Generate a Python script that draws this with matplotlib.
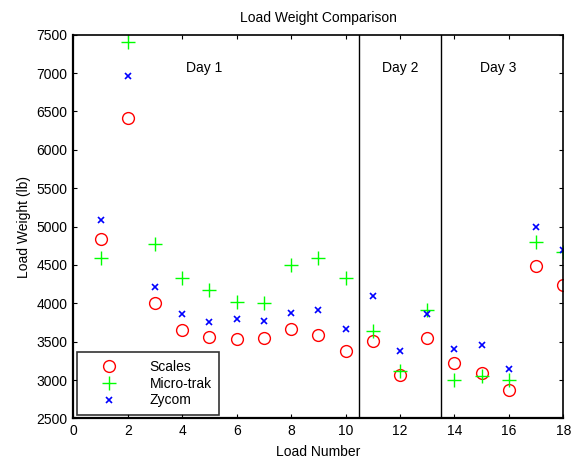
import matplotlib.pyplot as plt

plt.rcParams['font.family'] = ['Liberation Sans', 'DejaVu Sans']

# Load numbers
loads = list(range(1, 19))

# Weights (lb)
scales = [4840, 6415, 4010, 3648, 3560, 3530, 3545, 3660, 3585, 3380,
          3515, 3070, 3555, 3220, 3090, 2865, 4487, 4238]
micro_trak = [4590, 7400, 4770, 4330, 4170, 4020, 4005, 4500, 4595, 4330,
              3635, 3120, 3910, 3000, 3055, 3000, 4795, 4665]
zycom = [5080, 6960, 4213, 3860, 3760, 3800, 3770, 3875, 3915, 3670,
         4090, 3375, 3860, 3405, 3460, 3140, 5000, 4695]

day_breaks = [10.5, 13.5]
day_labels = ["Day 1", "Day 2", "Day 3"]
day_label_x = [4.8, 12.0, 15.6]

fig = plt.figure(figsize=(5.79, 4.62), dpi=100)
ax = fig.add_axes([0.1266, 0.0942, 0.8463, 0.8307])

ax.plot(loads, scales, 'o', mfc='none', mec='red', ms=8.5, mew=1.0, label='Scales')
ax.plot(loads, micro_trak, '+', color='#00ff00', ms=9.5, mew=1.0, label='Micro-trak')
ax.plot(loads, zycom, 'x', color='blue', ms=4.5, mew=1.2, label='Zycom')

for xb in day_breaks:
    ax.axvline(xb, color='black', lw=1.0)

for lbl, xl in zip(day_labels, day_label_x):
    ax.text(xl, 7070, lbl, ha='center', va='center', fontsize=10)

ax.set_xlim(0, 18)
ax.set_ylim(2500, 7500)
ax.set_xticks(range(0, 19, 2))
ax.set_yticks(range(2500, 7501, 500))
ax.tick_params(direction='in', top=True, right=True, labelsize=10, length=3, pad=4)
for side in ['left', 'bottom']:
    ax.spines[side].set_linewidth(1.6)
for side in ['top', 'right']:
    ax.spines[side].set_linewidth(1.2)

ax.set_title("Load Weight Comparison", fontsize=10, pad=9)
ax.set_xlabel("Load Number", fontsize=10, labelpad=5)
ax.set_ylabel("Load Weight (lb)", fontsize=10, labelpad=4)

leg = ax.legend(loc='lower left', fontsize=10, fancybox=False, edgecolor='black',
                borderaxespad=0.25, borderpad=0.55, handlelength=3.5,
                handletextpad=1.2, labelspacing=0.2)
leg.get_frame().set_linewidth(1.2)

fig.savefig("out.png", dpi=100)
